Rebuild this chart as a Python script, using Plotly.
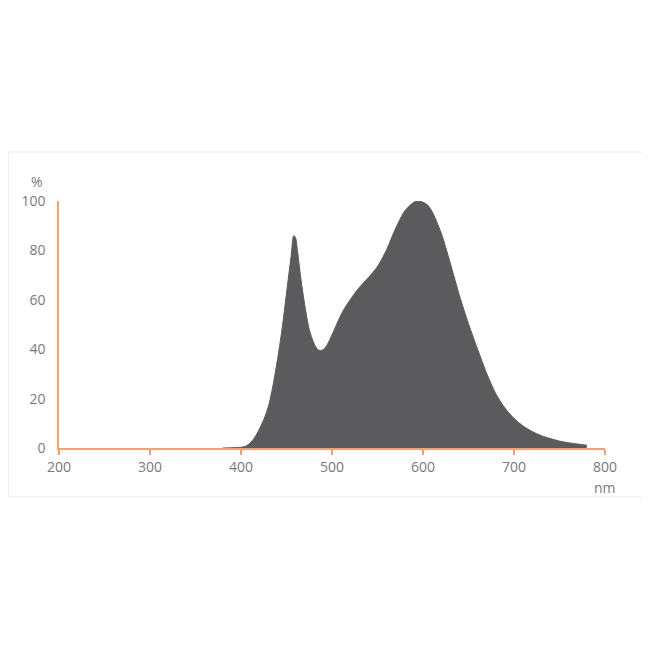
import plotly.graph_objects as go

# Spectre relatif (nm, %)
wavelength = [380, 390, 400, 405, 410, 415, 420, 425, 430, 435, 440, 445, 450, 455, 458,
              460, 462, 466, 470, 475, 480, 484, 487, 491, 495, 500, 505, 510, 515, 520,
              525, 530, 540, 550, 560, 570, 580, 590, 595, 600, 605, 610, 620, 630, 640, 650, 660,
              670, 680, 690, 700, 710, 720, 730, 740, 750, 760, 770, 780]
intensity = [0.0, 0.1, 0.3, 0.7, 2.0, 4.3, 7.5, 11.5, 16.7, 25.0, 35.6, 47.8, 62.7, 77.5, 86.0,
             85.0, 80.0, 68.0, 58.0, 48.0, 42.5, 40.0, 39.4, 40.0, 42.0, 45.8, 50.0, 54.0, 57.3, 60.0,
             62.7, 65.0, 69.0, 73.5, 80.3, 89.0, 96.0, 99.5, 100.0, 99.5, 98.4, 95.7, 87.0, 74.8, 61.8, 50.3, 40.0,
             30.2, 22.0, 16.2, 12.0, 8.9, 6.7, 5.0, 3.8, 2.8, 2.1, 1.6, 1.1]

x_ticks = [200, 300, 400, 500, 600, 700, 800]
y_ticks = [0, 20, 40, 60, 80, 100]

orange = "#f5a06e"
gris_texte = "#7a7a7a"

fig = go.Figure()

fig.add_trace(go.Scatter(
    x=wavelength,
    y=intensity,
    mode="lines",
    line=dict(color="#5b5b5d", width=1, shape="spline", smoothing=0.8),
    fill="tozeroy",
    fillcolor="#5b5b5d",
    hoverinfo="skip",
    showlegend=False
))

fig.update_layout(
    width=650,
    height=650,
    paper_bgcolor="white",
    plot_bgcolor="white",
    margin=dict(l=51, r=53, t=193, b=210),
    font=dict(family="Open Sans", size=14, color=gris_texte),
    xaxis=dict(
        range=[200, 800],
        tickvals=x_ticks,
        showgrid=False,
        zeroline=False,
        showline=True,
        linecolor=orange,
        linewidth=1.5,
        ticks="outside",
        ticklen=5,
        tickcolor=orange,
        tickwidth=1.5,
        tickfont=dict(size=14, color=gris_texte)
    ),
    yaxis=dict(
        range=[0, 100],
        tickvals=y_ticks,
        showgrid=False,
        zeroline=False,
        showline=True,
        linecolor=orange,
        linewidth=1.5,
        ticks="",
        ticklabelstandoff=9,
        tickfont=dict(size=14, color=gris_texte)
    ),
    annotations=[
        dict(text="%", x=-0.04, y=1.078, xref="paper", yref="paper",
             xanchor="center", yanchor="middle", showarrow=False,
             font=dict(size=14, color=gris_texte)),
        dict(text="nm", x=1.0, y=-0.16, xref="paper", yref="paper",
             xanchor="center", yanchor="middle", showarrow=False,
             font=dict(size=14, color=gris_texte))
    ],
    shapes=[
        dict(type="rect", xref="paper", yref="paper",
             x0=-0.093, x1=1.1, y0=-0.198, y1=1.198,
             line=dict(color="#ececec", width=1), layer="below")
    ]
)

fig.write_html("out.html")
